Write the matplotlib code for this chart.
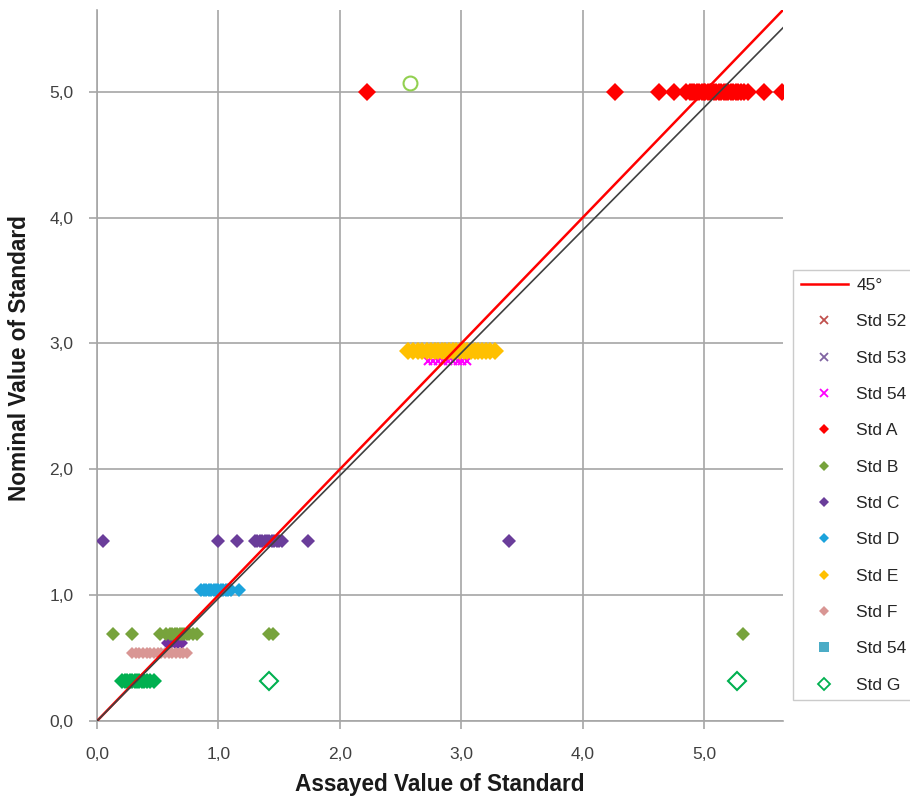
import matplotlib
matplotlib.use("Agg")
import matplotlib.pyplot as plt
from matplotlib.ticker import FuncFormatter
from matplotlib.lines import Line2D
import numpy as np

plt.rcParams['font.family'] = ['Liberation Sans', 'DejaVu Sans']

# ---- data ----
stdA_x = [2.22, 4.27, 4.63, 4.75, 4.85, 4.88, 4.90, 4.92, 4.94, 4.96, 4.98, 5.00, 5.01,
          5.03, 5.05, 5.06, 5.08, 5.10, 5.12, 5.14, 5.16, 5.18, 5.20, 5.22, 5.24, 5.26,
          5.28, 5.30, 5.33, 5.36, 5.49, 5.64]
stdA_y = 5.0
stdB_x = [0.13, 0.29, 0.52, 0.57, 0.60, 0.62, 0.64, 0.66, 0.68, 0.70, 0.72, 0.74, 0.76,
          0.79, 0.82, 1.42, 1.45, 5.32]
stdB_y = 0.69
stdC_x = [0.05, 1.00, 1.15, 1.30, 1.32, 1.34, 1.36, 1.38, 1.40, 1.42, 1.44, 1.46, 1.48,
          1.50, 1.52, 1.74, 3.39]
stdC_y = 1.43
stdD_x = [0.86, 0.88, 0.90, 0.92, 0.94, 0.96, 0.98, 1.00, 1.02, 1.04, 1.06, 1.08, 1.10, 1.17]
stdD_y = 1.04
stdE_x = [2.56, 2.60, 2.64, 2.68, 2.72, 2.75, 2.78, 2.81, 2.84, 2.87, 2.90, 2.93, 2.96,
          2.99, 3.02, 3.05, 3.08, 3.11, 3.14, 3.17, 3.20, 3.24, 3.28]
stdE_y = 2.94
std54x_x = [2.73, 2.77, 2.81, 2.85, 2.89, 2.93, 2.97, 3.01, 3.05]
std54x_y = 2.86
std53_x = [0.58, 0.61, 0.64, 0.67, 0.70]
std53_y = 0.62
stdF_x = [0.29, 0.32, 0.35, 0.38, 0.41, 0.44, 0.47, 0.50, 0.53, 0.56, 0.59, 0.62, 0.65,
          0.68, 0.71, 0.74]
stdF_y = 0.54
stdGfill_x = [0.21, 0.23, 0.25, 0.27, 0.29, 0.31, 0.33, 0.35, 0.37, 0.39, 0.41, 0.44, 0.47]
stdGfill_y = 0.32
stdG_x = [1.42, 5.27]
stdG_y = 0.32
odd_x = [2.58]
odd_y = [5.07]
fit_slope = 0.975
ticks = [0, 1, 2, 3, 4, 5]
lim = 5.65

legend_labels = ['45°', 'Std 52', 'Std 53', 'Std 54', 'Std A', 'Std B', 'Std C', 'Std D',
                 'Std E', 'Std F', 'Std 54', 'Std G']

fig = plt.figure(figsize=(9.1, 8.0), dpi=100)
ax = fig.add_axes([97/910, 1-721/800, (783-97)/910, (721-10)/800])

def pts(xs, y):
    return np.array(xs), np.full(len(xs), y)

x, y = pts(stdA_x, stdA_y); ax.plot(x, y, 'D', color='#FF0000', ms=9, mew=0, zorder=3)
x, y = pts(stdB_x, stdB_y); ax.plot(x, y, 'D', color='#77A33C', ms=7, mew=0, zorder=3)
x, y = pts(stdC_x, stdC_y); ax.plot(x, y, 'D', color='#6A3D9A', ms=7, mew=0, zorder=3)
x, y = pts(stdD_x, stdD_y); ax.plot(x, y, 'D', color='#1CA3DC', ms=7, mew=0, zorder=3)
x, y = pts(stdE_x, stdE_y); ax.plot(x, y, 'D', color='#FFC000', ms=9, mew=0, zorder=3)
x, y = pts(std54x_x, std54x_y); ax.plot(x, y, 'x', color='#FF00FF', ms=6, mew=1.5, zorder=2.9)
x, y = pts(std53_x, std53_y); ax.plot(x, y, 'D', color='#7030A0', ms=6, mew=0, zorder=2.9)
x, y = pts(stdF_x, stdF_y); ax.plot(x, y, 'D', color='#D99694', ms=6, mew=0, zorder=3)
x, y = pts(stdGfill_x, stdGfill_y); ax.plot(x, y, 'D', color='#00B050', ms=8, mew=0, zorder=3)
x, y = pts(stdG_x, stdG_y); ax.plot(x, y, 'D', mfc='white', mec='#00B050', ms=9, mew=1.5, zorder=3)
ax.plot(odd_x, odd_y, 'o', mfc='white', mec='#92D050', ms=10, mew=1.5, zorder=3)

# lines
ax.plot([0, lim], [0, lim], color='#FF0000', lw=1.8, zorder=5)
ax.plot([0, lim], [0, lim*fit_slope], color='#404040', lw=1.2, zorder=6)

ax.set_xlim(0, lim)
ax.set_ylim(0, lim)
ax.set_xticks(ticks)
ax.set_yticks(ticks)
fmt = FuncFormatter(lambda v, p: f"{v:.1f}".replace('.', ','))
ax.xaxis.set_major_formatter(fmt)
ax.yaxis.set_major_formatter(fmt)
ax.grid(True, color='#A6A6A6', lw=1.2)
ax.set_axisbelow(True)
for s in ['top', 'right']:
    ax.spines[s].set_visible(False)
for s in ['left', 'bottom']:
    ax.spines[s].set_color('#A6A6A6')
    ax.spines[s].set_linewidth(1.2)
ax.tick_params(length=6, width=1.2, color='#A6A6A6', labelsize=12.5, labelcolor='#404040')
ax.tick_params(axis='y', pad=11)
ax.tick_params(axis='x', pad=13)
ax.set_xlabel('Assayed Value of Standard', fontsize=16.3, fontweight='bold', color='#1a1a1a')
ax.set_ylabel('Nominal Value of Standard', fontsize=16.3, fontweight='bold', color='#1a1a1a')
ax.xaxis.set_label_coords(0.5, -(785-721)/711, transform=ax.transAxes)
ax.yaxis.set_label_coords(-(97-20)/686, 0.51, transform=ax.transAxes)
ax.xaxis.label.set_va('center')
ax.yaxis.label.set_va('center')

# legend
handles = [
    Line2D([], [], color='#FF0000', lw=1.8),
    Line2D([], [], ls='none', marker='x', color='#C0504D', ms=6, mew=1.3),
    Line2D([], [], ls='none', marker='x', color='#8064A2', ms=6, mew=1.3),
    Line2D([], [], ls='none', marker='x', color='#FF00FF', ms=6, mew=1.3),
    Line2D([], [], ls='none', marker='D', color='#FF0000', ms=5, mew=0),
    Line2D([], [], ls='none', marker='D', color='#77A33C', ms=5, mew=0),
    Line2D([], [], ls='none', marker='D', color='#6A3D9A', ms=5, mew=0),
    Line2D([], [], ls='none', marker='D', color='#1CA3DC', ms=5, mew=0),
    Line2D([], [], ls='none', marker='D', color='#FFC000', ms=5, mew=0),
    Line2D([], [], ls='none', marker='D', color='#D99694', ms=5, mew=0),
    Line2D([], [], ls='none', marker='s', color='#4BACC6', ms=7, mew=0),
    Line2D([], [], ls='none', marker='D', mfc='white', mec='#00B050', ms=6, mew=1.3),
]
leg = fig.legend(handles, legend_labels, loc='upper left', bbox_to_anchor=(793/910, 1-270/800),
                 fontsize=12.5, labelspacing=1.22, handlelength=2.7, handletextpad=0.5,
                 borderpad=0.45, borderaxespad=0, frameon=True, fancybox=False,
                 edgecolor='#BFBFBF')
leg.get_frame().set_linewidth(1.0)
for t in leg.get_texts():
    t.set_color('#262626')

fig.savefig('out.png', dpi=100)
